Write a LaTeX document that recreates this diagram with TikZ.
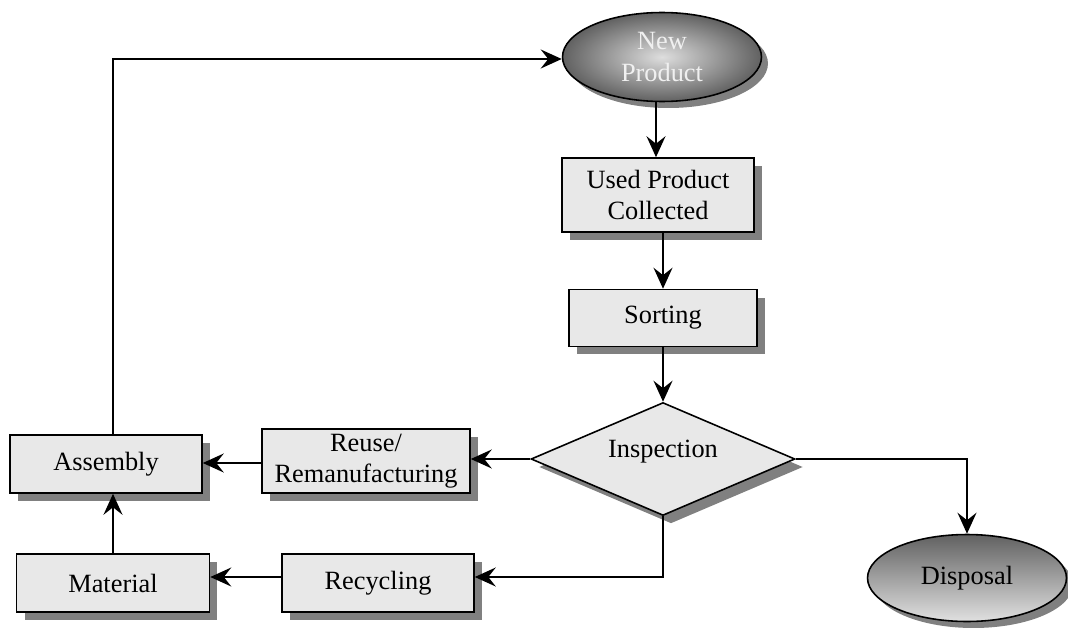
\documentclass[tikz,border=0pt]{standalone}
\usepackage{fontspec}
\setmainfont{Liberation Serif}
\usetikzlibrary{shapes.geometric,shadows,arrows.meta,calc}

\tikzset{
  px/.style={x=0.02cm,y=-0.02cm},
  shade/.style={drop shadow={shadow xshift=0.16cm,shadow yshift=-0.16cm,fill=black!50,opacity=1}},
  txt/.style={font=\fontsize{15}{17.8}\selectfont},
  stepbox/.style={draw=black,line width=0.9pt,fill=black!9,rectangle,shade,
    align=center,inner sep=0pt,txt},
  decision/.style={draw=black,line width=0.9pt,fill=black!9,diamond,aspect=2.34,shade,
    inner sep=0pt},
  terminal/.style={draw=black,line width=0.9pt,ellipse,inner sep=0pt,align=center,
    drop shadow={shadow xshift=0.13cm,shadow yshift=-0.13cm,fill=black!50,opacity=1},txt},
  arr/.style={line width=0.9pt,-{Stealth[length=0.42cm,width=0.38cm,inset=0.15cm]}},
}

\begin{document}
\begin{tikzpicture}[px]
\useasboundingbox (0,0) rectangle (1068,632);

% end points of the cycle
\node[terminal,minimum width=3.98cm,minimum height=1.78cm,
      inner color=black!13,outer color=black!62,text=white!94!black]
      (newp) at (662,57) {New\\Product};
\node[terminal,minimum width=3.98cm,minimum height=1.74cm,
      top color=black!62,bottom color=black!12]
      (disp) at (967,578) {Disposal};

% process steps
\node[stepbox,minimum width=3.84cm,minimum height=1.48cm] (used) at (658,195) {Used Product\\Collected};
\node[stepbox,minimum width=3.76cm,minimum height=1.14cm] (sort) at (663,318) {Sorting};
\node[decision,minimum width=5.28cm,minimum height=2.26cm] (insp) at (663,459) {};
\node[txt] (insplabel) at (663,452) {Inspection};
\node[stepbox,minimum width=4.16cm,minimum height=1.28cm] (reuse) at (366,461) {Reuse/\\Remanufacturing};
\node[stepbox,minimum width=3.84cm,minimum height=1.16cm] (asm) at (106,464) {Assembly};
\node[stepbox,minimum width=3.86cm,minimum height=1.16cm] (mat) at (113,583) {Material};
\node[stepbox,minimum width=3.84cm,minimum height=1.16cm] (rec) at (378,583) {Recycling};

% main flow
\draw[arr] (newp.south -| 656,0) -- (used.north -| 656,0);
\draw[arr] (used.south -| 663,0) -- (sort.north -| 663,0);
\draw[arr] (sort.south -| insp.north) -- (insp.north);
\draw[arr] (insp.west) -- (reuse.east |- insp.west);
\draw[arr] (reuse.west |- 0,463) -- (asm.east |- 0,463);
\draw[arr] (insp.south) -- (insp.south |- 0,577) -- (rec.east |- 0,577);
\draw[arr] (rec.west |- 0,577) -- (mat.east |- 0,577);
\draw[arr] (mat.north -| 113,0) -- (asm.south -| 113,0);
\draw[arr] (asm.north -| 113,0) -- (113,59) -- (newp.west |- 0,59);
\draw[arr] (insp.east) -- (disp.north |- insp.east) -- (disp.north);
\end{tikzpicture}
\end{document}
